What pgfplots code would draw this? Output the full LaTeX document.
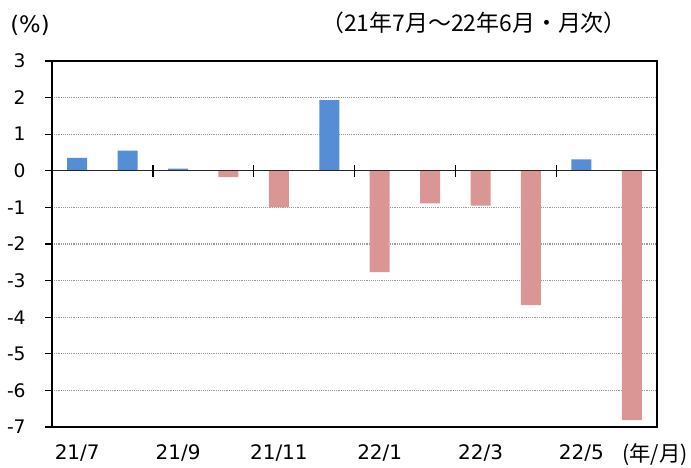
\documentclass[border=0pt]{standalone}
\usepackage{pgfplots}
\pgfplotsset{compat=1.18}
\usepackage{fontspec}
\setmainfont{DejaVu Sans}
\newfontfamily\jp{Noto Sans CJK JP}
\definecolor{barblue}{RGB}{85,142,213}
\definecolor{barpink}{RGB}{217,150,148}
\begin{document}
\begin{tikzpicture}[x=0.75pt,y=0.75pt]
\useasboundingbox (0,0) rectangle (691,467);
\begin{axis}[
  at={(39pt,30pt)}, anchor=south west,
  scale only axis, width=453.75pt, height=274.5pt,
  xmin=0.5, xmax=12.5, ymin=-7, ymax=3,
  ytick={-7,-6,...,3},
  xtick={1,3,5,7,9,11},
  xticklabels={21/7,21/9,21/11,22/1,22/3,22/5},
  xtick style={draw=none},
  ytick pos=left, tick align=outside, major tick length=5.25pt,
  ymajorgrids, grid style={densely dotted, black!40, line width=0.8pt},
  axis line style={line width=1pt, black},
  ytick style={line width=1pt, black},
  xticklabel style={font=\fontsize{15}{18}\selectfont, yshift=-4.5pt},
  yticklabel style={font=\fontsize{14}{17}\selectfont, xshift=-11pt},
  /pgf/number format/assume math mode=true,
]
\addplot[ybar, bar width=15pt, fill=barblue, draw=none] coordinates {
  (1,0.35) (2,0.55) (3,0.06) (6,1.93) (11,0.31)
};
\addplot[ybar, bar width=15pt, fill=barpink, draw=none] coordinates {
  (4,-0.17) (5,-1.00) (7,-2.77) (8,-0.89) (9,-0.95) (10,-3.67) (12,-6.81)
};
\draw[line width=1pt, black!85] (axis cs:0.5,0) -- (axis cs:12.5,0);
\draw[line width=1pt, black] ([yshift=-4.5pt]axis cs:2.5,0) -- ([yshift=4.5pt]axis cs:2.5,0);
\draw[line width=1pt, black] ([yshift=-4.5pt]axis cs:4.5,0) -- ([yshift=4.5pt]axis cs:4.5,0);
\draw[line width=1pt, black] ([yshift=-4.5pt]axis cs:6.5,0) -- ([yshift=4.5pt]axis cs:6.5,0);
\draw[line width=1pt, black] ([yshift=-4.5pt]axis cs:8.5,0) -- ([yshift=4.5pt]axis cs:8.5,0);
\draw[line width=1pt, black] ([yshift=-4.5pt]axis cs:10.5,0) -- ([yshift=4.5pt]axis cs:10.5,0);
\end{axis}
\node[font=\fontsize{17}{20}\selectfont, inner sep=0pt] at (30,442) {(\%)};
\node[font=\jp\fontsize{17.2}{20}\selectfont, inner sep=0pt] at (474,444) {（21年7月～22年6月・月次）};
\node[font=\jp\fontsize{16}{19}\selectfont, inner sep=0pt] at (655,12) {(年/月)};
\end{tikzpicture}
\end{document}
